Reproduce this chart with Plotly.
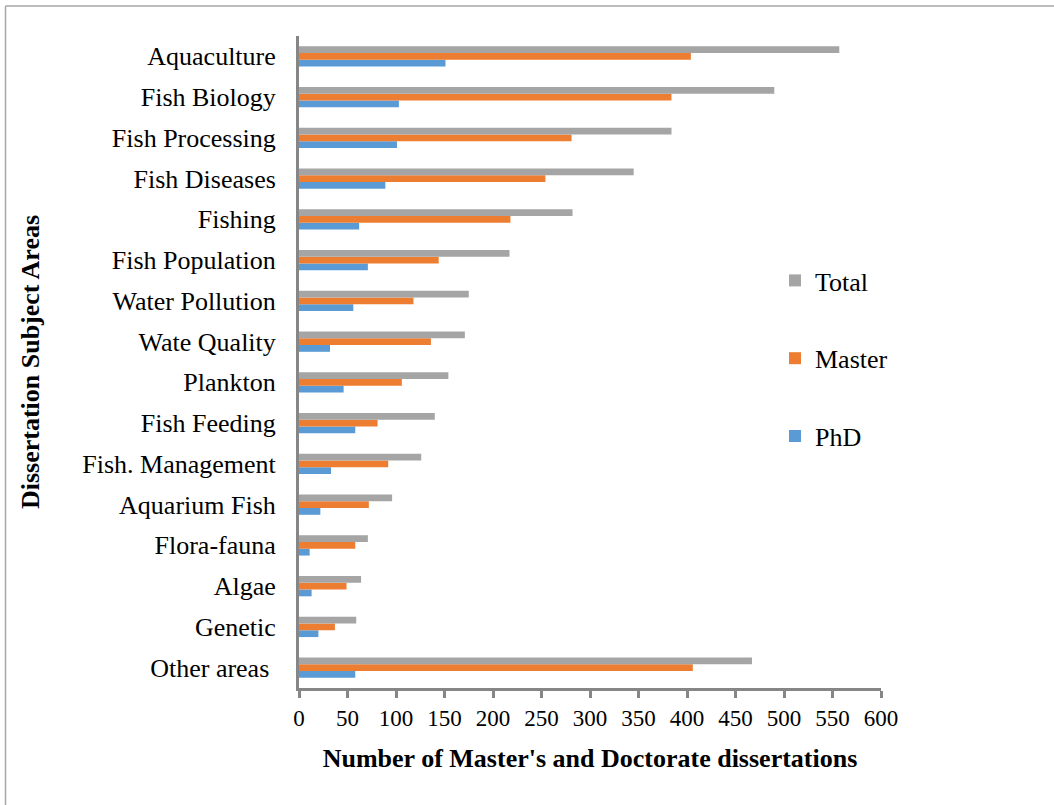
import plotly.graph_objects as go

# Subject areas, listed top to bottom as they appear on the chart
subjects = [
    "Aquaculture", "Fish Biology", "Fish Processing", "Fish Diseases",
    "Fishing", "Fish Population", "Water Pollution", "Wate Quality",
    "Plankton", "Fish Feeding", "Fish. Management", "Aquarium Fish",
    "Flora-fauna", "Algae", "Genetic", "Other areas\u00a0",
]
phd = [151, 103, 101, 89, 62, 71, 56, 32, 46, 58, 33, 22, 11, 13, 20, 58]
master = [404, 384, 281, 254, 218, 144, 118, 136, 106, 81, 92, 72, 58, 49, 37, 406]
total = [557, 490, 384, 345, 282, 217, 175, 171, 154, 140, 126, 96, 71, 64, 59, 467]

x_ticks = list(range(0, 601, 50))

FONT = "Liberation Serif, Times New Roman, serif"
AXIS_GREY = "#868686"

W, H = 1054, 805
ML, MR, MT, MB = 299, 173, 36, 117
PW, PH = W - ML - MR, H - MT - MB

fig = go.Figure()
# drawn bottom-to-top within each group; legend lists them top-to-bottom
series = [
    ("PhD", phd, "#5B9BD5", 3),
    ("Master", master, "#ED7D31", 2),
    ("Total", total, "#A5A5A5", 1),
]
for name, vals, color, rank in series:
    fig.add_trace(go.Bar(
        name=name, x=vals, y=subjects, orientation="h",
        marker=dict(color=color, line=dict(width=0)),
        legendgroup=name, legendrank=rank,
    ))


def px_x(p):
    return (p - ML) / PW


def px_y(p):
    return (H - MB - p) / PH


# thin frame lines along the top and left edges of the figure
frame = dict(type="line", xref="paper", yref="paper",
             line=dict(color="#A6A6A6", width=1.5))
fig.add_shape(**frame, x0=px_x(5.5), x1=px_x(W), y0=px_y(6), y1=px_y(6))
fig.add_shape(**frame, x0=px_x(5.5), x1=px_x(5.5), y0=px_y(6), y1=px_y(H))

fig.update_layout(
    width=W, height=H, autosize=False,
    margin=dict(l=ML, r=MR, t=MT, b=MB),
    paper_bgcolor="white", plot_bgcolor="white",
    barmode="group", bargap=0.5, bargroupgap=0,
    font=dict(family=FONT, color="black", size=26),
    legend=dict(
        x=px_x(775), xanchor="left", y=px_y(257), yanchor="top",
        traceorder="grouped", tracegroupgap=41,
        font=dict(family=FONT, size=26, color="black"),
        bgcolor="rgba(0,0,0,0)", borderwidth=0,
    ),
    xaxis=dict(
        range=[0, 600], tickvals=x_ticks, ticktext=[str(v) for v in x_ticks],
        showgrid=False, zeroline=False,
        showline=True, linewidth=3, linecolor=AXIS_GREY,
        ticks="outside", ticklen=7, tickwidth=3, tickcolor=AXIS_GREY,
        tickfont=dict(family=FONT, size=23, color="black"),
        title=dict(text="<b>Number of Master's and Doctorate dissertations</b>",
                   font=dict(family=FONT, size=26, color="black"), standoff=20),
    ),
    yaxis=dict(
        type="category", categoryorder="array", categoryarray=subjects[::-1],
        showgrid=False, zeroline=False,
        showline=True, linewidth=3, linecolor=AXIS_GREY,
        ticks="", ticklabelstandoff=15,
        tickfont=dict(family=FONT, size=26, color="black"),
        title=dict(text="<b>Dissertation Subject Areas</b>",
                   font=dict(family=FONT, size=26, color="black"), standoff=36),
    ),
)

fig.write_html("out.html")
